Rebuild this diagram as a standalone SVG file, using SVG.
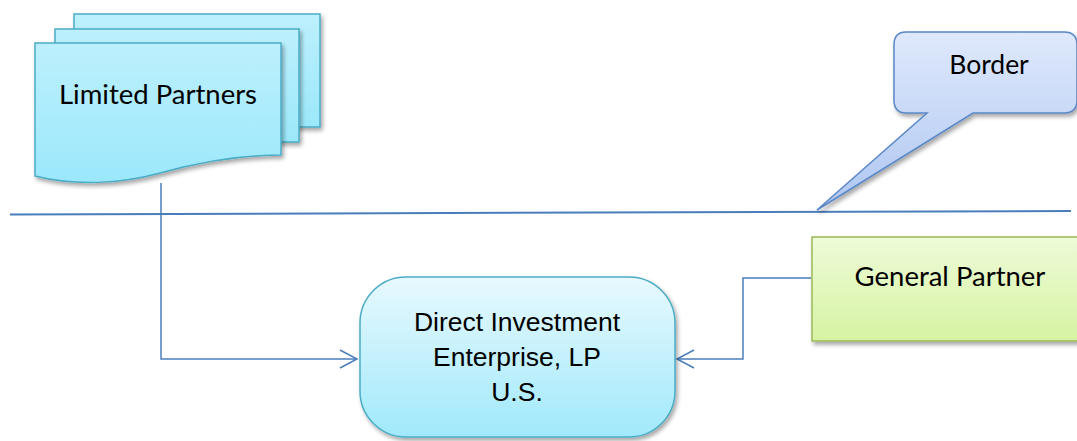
<svg xmlns="http://www.w3.org/2000/svg" width="1077" height="441" viewBox="0 0 1077 441">
  <style>
    .cal { font-family: Lato, "Open Sans", "Liberation Sans", sans-serif; fill: #000; }
    .ari { font-family: "Liberation Sans", Arial, sans-serif; fill: #000; font-size: 26.5px; }
    .doc { fill: url(#gDoc); stroke: #4bacc6; stroke-width: 1.5; filter: url(#shadow); }
    .wire { fill: none; stroke: #4a7ebb; stroke-width: 1.5; }
  </style>
  <defs>
    <filter id="shadow" x="-10%" y="-10%" width="130%" height="140%">
      <feDropShadow dx="2" dy="3" stdDeviation="2" flood-color="#000" flood-opacity="0.35"/>
    </filter>
    <linearGradient id="gDoc" x1="0" y1="0" x2="0" y2="1">
      <stop offset="0" stop-color="#bdf0fd"/>
      <stop offset="1" stop-color="#9be8fb"/>
    </linearGradient>
    <linearGradient id="gDie" x1="0" y1="0" x2="0" y2="1">
      <stop offset="0" stop-color="#e8f9fe"/>
      <stop offset="1" stop-color="#a0e9fb"/>
    </linearGradient>
    <linearGradient id="gGp" x1="0" y1="0" x2="0" y2="1">
      <stop offset="0" stop-color="#eefbd8"/>
      <stop offset="1" stop-color="#d6f3a2"/>
    </linearGradient>
    <linearGradient id="gCall" x1="0" y1="0" x2="0" y2="1">
      <stop offset="0" stop-color="#dfe9fc"/>
      <stop offset="1" stop-color="#aec6f1"/>
    </linearGradient>
    <marker id="openArrow" viewBox="0 0 20 20" refX="18" refY="10" markerWidth="20" markerHeight="20" markerUnits="userSpaceOnUse" orient="auto">
      <path d="M1,1 L18,10 L1,19" fill="none" stroke="#4a7ebb" stroke-width="1.5"/>
    </marker>
  </defs>

  <!-- border line -->
  <g id="border-line">
    <line x1="10" y1="214.5" x2="1071" y2="211" stroke="#4a7ebb" stroke-width="2"/>
  </g>

  <!-- connectors -->
  <g id="connectors">
    <polyline class="wire" points="161,183 161,359 357,359" marker-end="url(#openArrow)"/>
    <polyline class="wire" points="811,278 743,278 743,359 677,359" marker-end="url(#openArrow)"/>
  </g>

  <!-- limited partners: stacked documents -->
  <g id="limited-partners">
    <rect class="doc" x="74" y="14" width="246" height="113"/>
    <rect class="doc" x="55" y="29" width="244" height="113"/>
    <path class="doc" d="M35,43 H281 V155 C240,155 200,162 160,173 C120,184 75,186 35,176 Z"/>
    <text class="cal" x="158" y="104" font-size="27.5" text-anchor="middle">Limited Partners</text>
  </g>

  <!-- border callout -->
  <g id="border-callout">
    <path d="M906,32 H1064 Q1077,32 1077,45 V100 Q1077,113 1064,113 H973 L817,210 L927,113 H906 Q894,113 894,100 V45 Q894,32 906,32 Z"
          fill="url(#gCall)" stroke="#5a87c6" stroke-width="1.5" filter="url(#shadow)"/>
    <text class="cal" x="989" y="74" font-size="26.5" text-anchor="middle">Border</text>
  </g>

  <!-- general partner -->
  <g id="general-partner">
    <rect x="812" y="237" width="290" height="104" fill="url(#gGp)" stroke="#9bbb59" stroke-width="1.5" filter="url(#shadow)"/>
    <text class="cal" x="950" y="286" font-size="27.5" text-anchor="middle">General Partner</text>
  </g>

  <!-- direct investment enterprise -->
  <g id="direct-investment">
    <rect x="360" y="277" width="315" height="160" rx="46" ry="46" fill="url(#gDie)" stroke="#4bacc6" stroke-width="1.5" filter="url(#shadow)"/>
    <text class="ari" x="517" y="331" text-anchor="middle">Direct Investment</text>
    <text class="ari" x="517" y="366" text-anchor="middle">Enterprise, LP</text>
    <text class="ari" x="517" y="401" text-anchor="middle">U.S.</text>
  </g>
</svg>
